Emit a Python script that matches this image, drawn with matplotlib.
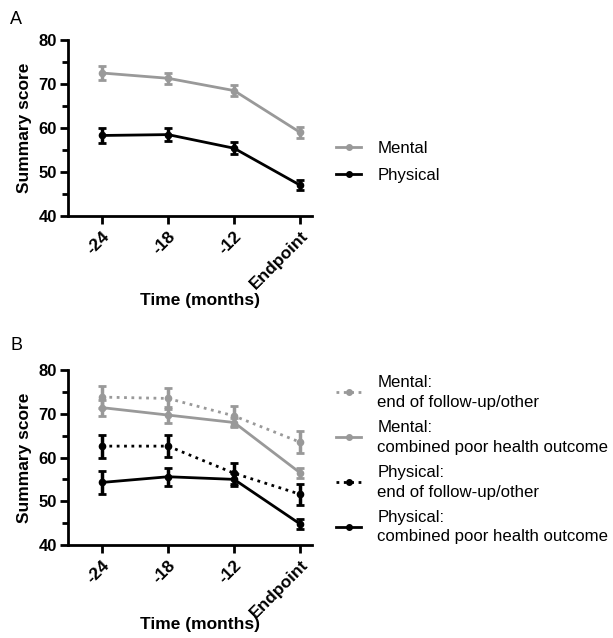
import matplotlib
matplotlib.use("Agg")
import matplotlib.pyplot as plt
import numpy as np
from matplotlib.lines import Line2D
from matplotlib.ticker import MultipleLocator

plt.rcParams['font.family'] = ['Liberation Sans', 'DejaVu Sans']

categories = ["-24", "-18", "-12", "Endpoint"]

# Panel A
mental_a = [72.5, 71.3, 68.5, 59.0]
mental_a_err = [1.5, 1.3, 1.2, 1.2]
physical_a = [58.3, 58.5, 55.4, 47.0]
physical_a_err = [1.8, 1.5, 1.4, 1.1]

# Panel B
mental_end = [73.8, 73.5, 69.5, 63.5]
mental_end_err = [2.5, 2.3, 2.3, 2.5]
mental_comb = [71.4, 69.7, 68.0, 56.5]
mental_comb_err = [1.8, 1.8, 1.0, 1.2]
physical_end = [62.6, 62.6, 56.4, 51.6]
physical_end_err = [2.6, 2.5, 2.4, 2.4]
physical_comb = [54.3, 55.6, 55.0, 44.8]
physical_comb_err = [2.6, 2.1, 1.5, 1.2]

GREY = "#999999"
BLACK = "#000000"

fig = plt.figure(figsize=(6.13, 6.38), dpi=100)
W, H = 613, 638
LEGFS = 12.1

def make_ax(top_px, bottom_px):
    ax = fig.add_axes([68 / W, 1 - bottom_px / H, (312 - 68) / W, (bottom_px - top_px) / H])
    return ax

def style(ax, top_px, bottom_px, xlabel_y_px):
    x = np.arange(len(categories))
    ax.set_xlim(-0.515, 3.18)
    ax.set_ylim(40, 80)
    ax.set_xticks(x)
    ax.set_xticklabels(categories, rotation=45, ha='right', rotation_mode='anchor',
                       fontsize=12.5, fontweight='bold')
    ax.yaxis.set_major_locator(MultipleLocator(10))
    ax.yaxis.set_minor_locator(MultipleLocator(5))
    ax.tick_params(axis='y', which='major', length=6, width=2, labelsize=12, pad=2)
    ax.tick_params(axis='y', which='minor', length=4, width=2)
    ax.tick_params(axis='x', which='major', length=6, width=2, pad=3)
    for lab in ax.get_yticklabels():
        lab.set_fontweight('bold')
    for s in ['top', 'right']:
        ax.spines[s].set_visible(False)
    for s in ['left', 'bottom']:
        ax.spines[s].set_linewidth(2)
    ax.set_ylabel("Summary score", fontsize=12.5, fontweight='bold')
    ax.yaxis.set_label_coords((25 - 68) / (312 - 68), 0.5)
    ax.yaxis.label.set_va('center')
    ax.set_xlabel("Time (months)", fontsize=12.5, fontweight='bold')
    ax.xaxis.label.set_va('center')
    ax.xaxis.set_label_coords((200 - 68) / (312 - 68),
                              -(xlabel_y_px - bottom_px) / (bottom_px - top_px))

def series(ax, y, err, color, ls):
    x = np.arange(len(y))
    ax.errorbar(x, y, yerr=err, color=color, linestyle=ls, linewidth=2,
                marker='o', markersize=4.5, capsize=3.2, capthick=2, elinewidth=2.5,
                clip_on=False, zorder=3)

# Panel A
axA = make_ax(40, 216)
series(axA, mental_a, mental_a_err, GREY, '-')
series(axA, physical_a, physical_a_err, BLACK, '-')
style(axA, 40, 216, 301)
hA = [Line2D([], [], color=GREY, lw=2, marker='o', markersize=4),
      Line2D([], [], color=BLACK, lw=2, marker='o', markersize=4)]
legA = axA.legend(hA, ["Mental", "Physical"], loc='upper left',
                  bbox_to_anchor=(336 / W, 1 - 141 / H),
                  bbox_transform=fig.transFigure, frameon=False, fontsize=LEGFS,
                  handlelength=1.5, handletextpad=0.95, labelspacing=0.7,
                  borderaxespad=0, borderpad=0)
fig.text(10 / W, 1 - 20 / H, "A", fontsize=13, va='center', ha='left')

# Panel B
axB = make_ax(370, 545)
series(axB, mental_end, mental_end_err, GREY, ':')
series(axB, mental_comb, mental_comb_err, GREY, '-')
series(axB, physical_end, physical_end_err, BLACK, ':')
series(axB, physical_comb, physical_comb_err, BLACK, '-')
style(axB, 370, 545, 625)
hB = [Line2D([], [], color=GREY, lw=2, ls=':', marker='o', markersize=4),
      Line2D([], [], color=GREY, lw=2, ls='-', marker='o', markersize=4),
      Line2D([], [], color=BLACK, lw=2, ls=':', marker='o', markersize=4),
      Line2D([], [], color=BLACK, lw=2, ls='-', marker='o', markersize=4)]
labsB = ["Mental:\nend of follow-up/other",
         "Mental:\ncombined poor health outcome",
         "Physical:\nend of follow-up/other",
         "Physical:\ncombined poor health outcome"]
legB = axB.legend(hB, labsB, loc='upper left', bbox_to_anchor=(336 / W, 1 - 375 / H),
                  bbox_transform=fig.transFigure, frameon=False, fontsize=LEGFS,
                  handlelength=1.5, handletextpad=0.95, labelspacing=0.62,
                  borderaxespad=0, borderpad=0)
for t in legB.get_texts():
    t.set_linespacing(1.38)
fig.text(10 / W, 1 - 345 / H, "B", fontsize=13, va='center', ha='left')

fig.savefig("out.png", dpi=100)
